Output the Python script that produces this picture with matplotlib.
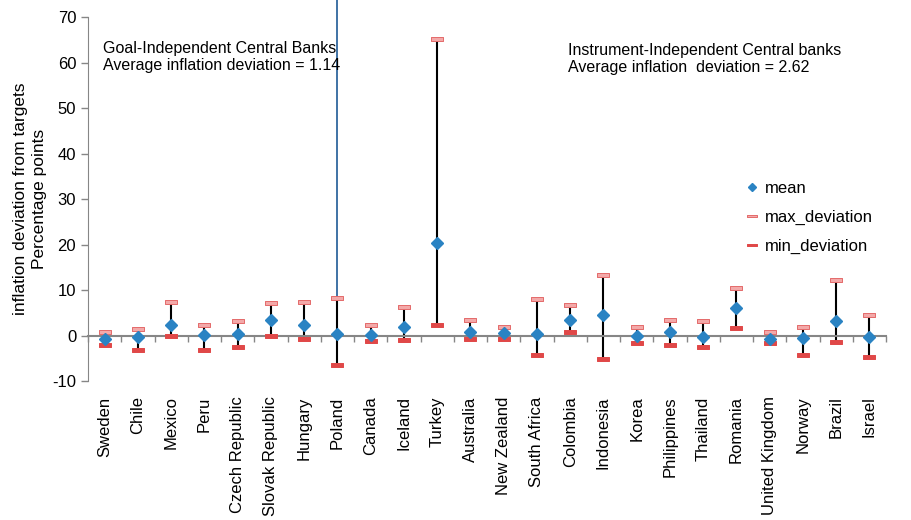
import matplotlib
matplotlib.use("Agg")
import matplotlib.pyplot as plt
from matplotlib.path import Path

plt.rcParams["font.family"] = ["Liberation Sans", "DejaVu Sans"]
plt.rcParams["axes.unicode_minus"] = False

# Countries and deviation stats (percentage points)
countries = ["Sweden", "Chile", "Mexico", "Peru", "Czech Republic", "Slovak Republic",
             "Hungary", "Poland", "Canada", "Iceland", "Turkey", "Australia",
             "New Zealand", "South Africa", "Colombia", "Indonesia", "Korea",
             "Philippines", "Thailand", "Romania", "United Kingdom", "Norway",
             "Brazil", "Israel"]
mean_dev = [-0.8, -0.3, 2.3, 0.1, 0.4, 3.5, 2.4, 0.4, 0.2, 1.9, 20.3, 0.7,
            0.5, 0.4, 3.4, 4.5, -0.1, 0.7, -0.4, 6.0, -0.7, -0.6, 3.2, -0.4]
max_dev = [0.9, 1.5, 7.5, 2.3, 3.3, 7.2, 7.5, 8.2, 2.3, 6.4, 65.2, 3.5,
           1.8, 8.1, 6.7, 13.3, 1.9, 3.5, 3.2, 10.5, 0.7, 1.9, 12.2, 4.5]
min_dev = [-2.1, -3.1, -0.1, -3.2, -2.6, 0.0, -0.7, -6.5, -1.2, -1.0, 2.3, -0.7,
           -0.7, -4.2, 0.9, -5.2, -1.6, -2.1, -2.6, 1.7, -1.7, -4.2, -1.5, -4.8]

goal_text = "Goal-Independent Central Banks\nAverage inflation deviation = 1.14"
instr_text = "Instrument-Independent Central banks\nAverage inflation  deviation = 2.62"
split_country = "Poland"
y_ticks = list(range(-10, 71, 10))

x = list(range(len(countries)))
gray = "#868686"

fig = plt.figure(figsize=(9.12, 5.20), dpi=100)
ax = fig.add_axes([0.0965, 0.267, 0.8750, 0.700])

# flat rectangle marker for max/min
bar_marker = Path([(-1, -0.3), (1, -0.3), (1, 0.3), (-1, 0.3), (-1, -0.3)],
                  [Path.MOVETO, Path.LINETO, Path.LINETO, Path.LINETO, Path.CLOSEPOLY])

ax.vlines(x, min_dev, max_dev, color="black", lw=1.5, zorder=2)
ax.plot(x, max_dev, ls="none", marker=bar_marker, ms=9, mfc="#f3a9a9",
        mec="#e46a6a", mew=0.7, label="max_deviation", zorder=3)
ax.plot(x, min_dev, ls="none", marker=bar_marker, ms=9, mfc="#e04848",
        mec="#e04848", mew=0.7, label="min_deviation", zorder=3)
ax.plot(x, mean_dev, ls="none", marker="D", ms=6, color="#2a83c3",
        label="mean", zorder=4)

# separator between groups
sx = countries.index(split_country)
ax.plot([sx, sx], [-4, 74], color="#1f5a96", lw=1.2, clip_on=False, zorder=1)

ax.set_xlim(-0.5, len(countries) - 0.5)
ax.set_ylim(-10, 70)
ax.set_yticks(y_ticks)
ax.tick_params(axis="y", colors=gray, labelcolor="black", labelsize=12,
               direction="out", length=5, width=1)

for s in ["top", "right"]:
    ax.spines[s].set_visible(False)
ax.spines["left"].set_color(gray)
ax.spines["bottom"].set_position(("data", 0))
ax.spines["bottom"].set_color(gray)
ax.spines["bottom"].set_linewidth(1.5)
ax.set_xticks([i - 0.5 for i in range(len(countries) + 1)])
ax.set_xticklabels([])
ax.tick_params(axis="x", colors=gray, direction="out", length=4, width=1)

sec = ax.secondary_xaxis("bottom")
sec.set_xticks(x)
sec.set_xticklabels(countries, rotation=90, fontsize=12)
sec.tick_params(length=0, pad=11)
sec.spines["bottom"].set_visible(False)

ax.set_ylabel("inflation deviation from targets\nPercentage points", fontsize=12.5,
              linespacing=1.3, labelpad=4)

ax.text(0.019, 0.935, goal_text, transform=ax.transAxes, fontsize=11.5,
        va="top", ha="left", linespacing=1.15)
ax.text(0.601, 0.928, instr_text, transform=ax.transAxes, fontsize=11.5,
        va="top", ha="left", linespacing=1.15)

handles, labels = ax.get_legend_handles_labels()
order = [2, 0, 1]
ax.legend([handles[i] for i in order], [labels[i] for i in order],
          loc="upper left", bbox_to_anchor=(0.807, 0.592), frameon=False,
          fontsize=12, handlelength=0.6, handletextpad=0.5, labelspacing=0.85,
          markerscale=0.75)

fig.savefig("out.png", dpi=100)
